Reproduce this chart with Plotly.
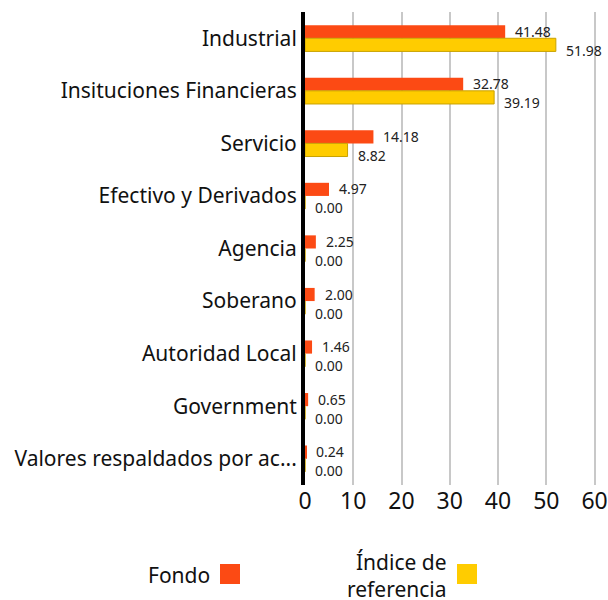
import plotly.graph_objects as go

categories = ["Industrial", "Insituciones Financieras", "Servicio", "Efectivo y Derivados",
              "Agencia", "Soberano", "Autoridad Local", "Government",
              "Valores respaldados por ac..."]
fondo = [41.48, 32.78, 14.18, 4.97, 2.25, 2.00, 1.46, 0.65, 0.24]
indice = [51.98, 39.19, 8.82, 0.00, 0.00, 0.00, 0.00, 0.00, 0.00]
series_names = ["Fondo", "Índice de<br>referencia"]
x_ticks = [0, 10, 20, 30, 40, 50, 60]

ORANGE = "#FC4A14"
YELLOW = "#FFCC00"
FONT = "Noto Sans"

fig = go.Figure()
fig.add_trace(go.Bar(
    y=categories, x=fondo, orientation="h", name="Fondo",
    marker=dict(color=ORANGE, line=dict(width=0)),
))
fig.add_trace(go.Bar(
    y=categories, x=indice, orientation="h", name="Índice de referencia",
    marker=dict(color=YELLOW, line=dict(width=1, color="#C9A200")),
))

# value labels (annotations anchored on data values)
for cat, v in zip(categories, fondo):
    fig.add_annotation(x=v, y=cat, xref="x", yref="y", text=f"{v:.2f}", showarrow=False,
                       xanchor="left", yanchor="middle", xshift=8, yshift=7,
                       font=dict(size=14, color="#222222", family=FONT))
for cat, v in zip(categories, indice):
    fig.add_annotation(x=v, y=cat, xref="x", yref="y", text=f"{v:.2f}", showarrow=False,
                       xanchor="left", yanchor="middle", xshift=8, yshift=-12,
                       font=dict(size=14, color="#222222", family=FONT))

fig.update_layout(
    width=608, height=600,
    margin=dict(l=305, r=12, t=12, b=115, autoexpand=False),
    paper_bgcolor="white", plot_bgcolor="white",
    barmode="group", bargap=0.5, bargroupgap=0,
    showlegend=False,
    font=dict(family=FONT, color="#111111"),
    xaxis=dict(range=[0, 60.3], tickvals=x_ticks, showgrid=True, gridcolor="#C8C8C8",
               gridwidth=2, zeroline=False, tickfont=dict(size=23, color="#111111"),
               ticks="", showline=False, automargin=False),
    yaxis=dict(autorange="reversed", showline=True, linecolor="black", linewidth=4,
               tickfont=dict(size=21, color="#111111"), ticks="", showgrid=False,
               automargin=False),
)

# Legend (text to the left of swatch)
def px2paper_x(px):
    return (px - 305) / (608 - 305 - 12)

def px2paper_y(py):
    return (600 - 115 - py) / (600 - 115 - 12)

legend_items = [
    (series_names[0], ORANGE, 212, 220),
    (series_names[1], YELLOW, 449, 457),
]
for name, color, text_right, sw_left in legend_items:
    fig.add_annotation(x=px2paper_x(text_right), y=px2paper_y(575), xref="paper", yref="paper",
                       text=name, showarrow=False, xanchor="right", yanchor="middle",
                       align="right", font=dict(size=21, color="#111111", family=FONT))
    fig.add_shape(type="rect", xref="paper", yref="paper",
                  x0=px2paper_x(sw_left), x1=px2paper_x(sw_left + 20),
                  y0=px2paper_y(564), y1=px2paper_y(584),
                  fillcolor=color, line=dict(width=0))

fig.write_html("out.html", config={"displayModeBar": False},
               post_script="document.body.style.margin='0';document.body.style.overflow='hidden';")
